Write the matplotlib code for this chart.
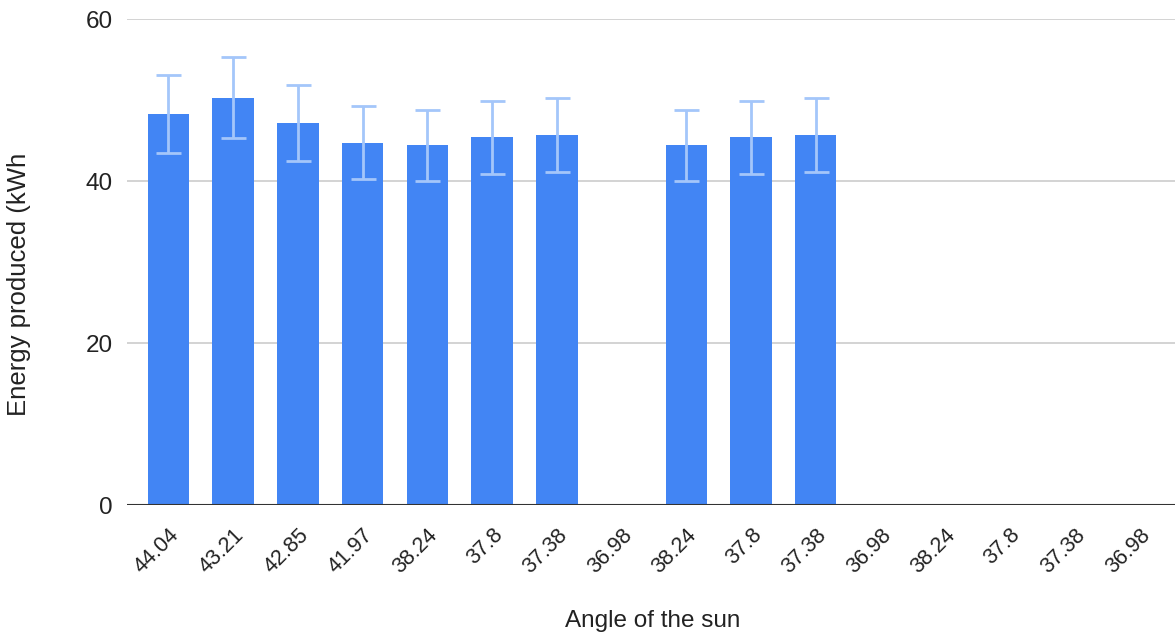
import numpy as np
import matplotlib
matplotlib.use("Agg")
import matplotlib.pyplot as plt
import matplotlib.transforms as mtransforms

# ---------- DATA ----------
angles = ["44.04", "43.21", "42.85", "41.97", "38.24", "37.8", "37.38", "36.98",
          "38.24", "37.8", "37.38", "36.98", "38.24", "37.8", "37.38", "36.98"]
energy = [48.3, 50.3, 47.2, 44.7, 44.4, 45.4, 45.7, np.nan,
          44.4, 45.4, 45.7, np.nan, np.nan, np.nan, np.nan, np.nan]
errors = [4.8, 5.0, 4.7, 4.5, 4.4, 4.5, 4.6, np.nan,
          4.4, 4.5, 4.6, np.nan, np.nan, np.nan, np.nan, np.nan]
y_ticks = [0, 20, 40, 60]

# ---------- PLOT ----------
plt.rcParams['font.family'] = ['Liberation Sans', 'DejaVu Sans']

fig = plt.figure(figsize=(11.75, 6.39), dpi=100)
ax = fig.add_axes([127 / 1175, 1 - 505 / 639, (1175 - 127) / 1175, (505 - 19) / 639])

x = np.arange(len(angles))
ax.bar(x, energy, width=0.64, color="#4285F4", zorder=2)
ax.errorbar(x, energy, yerr=errors, fmt="none", ecolor="#A4C6FA",
            elinewidth=2, capsize=9, capthick=2, zorder=3)

ax.set_xlim(-0.64, 15.55)
ax.set_ylim(0, 60)
ax.set_yticks(y_ticks)
ax.set_xticks(x)
ax.set_xticklabels(angles, rotation=45, ha="right", rotation_mode="anchor")

# shift rotated labels a bit to the right, like the original
offset = mtransforms.ScaledTranslation(12 / 100, 0, fig.dpi_scale_trans)
for lab in ax.get_xticklabels():
    lab.set_transform(lab.get_transform() + offset)

# gridlines and baseline
ax.grid(axis="y", color="#CCCCCC", linewidth=1.2, zorder=0)
ax.axhline(0, color="#333333", linewidth=1.5, zorder=4)
for side in ["top", "right", "left", "bottom"]:
    ax.spines[side].set_visible(False)

ax.tick_params(axis="y", length=0, pad=10, labelsize=17.5, labelcolor="#222222")
ax.tick_params(axis="x", length=0, pad=14, labelsize=15.5, labelcolor="#222222")

ax.set_xlabel("Angle of the sun", fontsize=17.5, color="#222222")
ax.xaxis.set_label_coords((653 - 127) / (1175 - 127), -(621 - 505) / (505 - 19))
ax.set_ylabel("Energy produced (kWh", fontsize=18.5, color="#222222")
ax.yaxis.set_label_coords(-(127 - 19) / (1175 - 127), (505 - 284) / (505 - 19))
ax.yaxis.label.set_va("center")
ax.xaxis.label.set_va("center")

fig.savefig("out.png", dpi=100)
